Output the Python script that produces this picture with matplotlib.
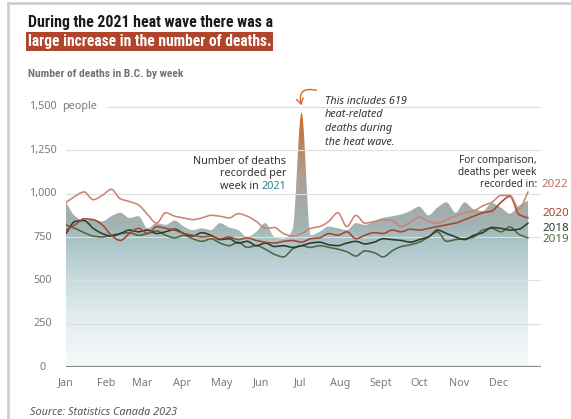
import numpy as np
import matplotlib
matplotlib.use("Agg")
import matplotlib.pyplot as plt
from matplotlib import font_manager
from matplotlib.colors import LinearSegmentedColormap
from matplotlib.lines import Line2D
from matplotlib.patches import FancyArrowPatch

# weekly deaths in B.C. (week 1 .. 52)
deaths_2021 = [950, 870, 845, 850, 840, 870, 890, 860, 870, 800, 830, 820, 845,
               810, 790, 800, 790, 830, 805, 790, 750, 780, 830, 750, 740, 790,
               1470, 760, 780, 810, 800, 790, 830, 820, 840, 860, 870, 880, 900,
               925, 875, 920, 950, 890, 950, 910, 900, 945, 920, 885, 930, 960]
deaths_2022 = [950, 985, 1010, 965, 990, 1025, 970, 955, 935, 880, 830, 890, 870,
               860, 850, 860, 875, 870, 860, 885, 870, 840, 800, 805, 770, 755,
               770, 800, 810, 840, 890, 810, 875, 830, 840, 850, 845, 810, 835,
               865, 840, 830, 850, 870, 890, 900, 930, 950, 990, 990, 910, 1010]
deaths_2020 = [790, 820, 855, 850, 820, 760, 730, 770, 800, 770, 810, 800, 790,
               770, 760, 750, 755, 740, 750, 735, 745, 730, 720, 715, 725, 730,
               720, 740, 745, 770, 760, 780, 740, 760, 775, 770, 790, 780, 795,
               790, 800, 810, 820, 830, 850, 870, 890, 900, 950, 985, 880, 860]
deaths_2018 = [770, 840, 845, 800, 770, 755, 770, 790, 780, 790, 770, 780, 795,
               770, 755, 775, 760, 735, 740, 715, 725, 700, 715, 695, 700, 690,
               700, 715, 720, 705, 700, 715, 725, 710, 720, 740, 735, 730, 720,
               735, 750, 790, 770, 750, 735, 760, 775, 805, 800, 790, 795, 830]
deaths_2019 = [820, 800, 775, 755, 750, 760, 770, 775, 760, 770, 785, 760, 745,
               760, 740, 725, 740, 715, 700, 720, 690, 700, 680, 650, 635, 680,
               700, 690, 700, 690, 680, 665, 640, 670, 660, 635, 670, 695, 705,
               720, 750, 780, 725, 735, 740, 750, 790, 800, 780, 808, 765, 745]

months = ["Jan", "Feb", "Mar", "Apr", "May", "Jun", "Jul", "Aug", "Sept", "Oct", "Nov", "Dec"]
month_start_day = [0, 31, 59, 90, 120, 151, 181, 212, 243, 273, 304, 334]
y_ticks = [0, 250, 500, 750, 1000, 1250, 1500]

W, H = 571, 419
TEAL = "#2f7f8c"
C2022, C2020, C2018, C2019 = "#cd8275", "#a8442e", "#2e3a2c", "#52663e"
GRAY = "#7a7a7a"


def pick_font(*names):
    have = {f.name for f in font_manager.fontManager.ttflist}
    for n in names:
        if n in have:
            return n
    return "DejaVu Sans"


HEAD = pick_font("Roboto Condensed", "Liberation Sans Narrow", "DejaVu Sans")
BODY = pick_font("Noto Sans", "Lato", "DejaVu Sans")


def pchip(y, n=12):
    """Monotone cubic through evenly spaced points, for smooth lines."""
    y = np.asarray(y, float)
    d = np.diff(y)
    m = np.zeros_like(y)
    for k in range(1, len(y) - 1):
        if d[k - 1] * d[k] > 0:
            m[k] = 2.0 / (1.0 / d[k - 1] + 1.0 / d[k])
    m[0], m[-1] = d[0], d[-1]
    xs, ys = [], []
    for k in range(len(y) - 1):
        t = np.linspace(0, 1, n, endpoint=False)
        h00 = 2 * t**3 - 3 * t**2 + 1
        h10 = t**3 - 2 * t**2 + t
        h01 = -2 * t**3 + 3 * t**2
        h11 = t**3 - t**2
        xs.append(k + t)
        ys.append(h00 * y[k] + h10 * m[k] + h01 * y[k + 1] + h11 * m[k + 1])
    xs.append([len(y) - 1])
    ys.append([y[-1]])
    return np.concatenate(xs), np.concatenate(ys)


def px(x, y):
    return x / W, 1 - y / H


fig = plt.figure(figsize=(W / 100, H / 100), dpi=100)
fig.patch.set_facecolor("white")
renderer = fig.canvas.get_renderer()

# axes placed so that 0 sits at y=367 px and 1,500 at y=107 px
ppu = 260 / 1500
ymax = 1600
xend = 475 / 9.06
ax = fig.add_axes([66 / W, (H - 367) / H, 475 / W, ymax * ppu / H])
ax.axis("off")

# 2021 area with a vertical colour gradient
xs, ys = pchip(deaths_2021)
poly = ax.fill_between(xs, 0, ys, facecolor="none", edgecolor="none")
stops = [(0, "#f6f9f9"), (300, "#e1ecee"), (550, "#c2d7da"), (720, "#aac4c8"),
         (820, "#a2b3b2"), (950, "#a5aaa7"), (1100, "#ad9f95"), (1470, "#d5661f"),
         (1600, "#d5661f")]
cmap = LinearSegmentedColormap.from_list("area", [(v / 1600, c) for v, c in stops])
grad = np.linspace(0, 1, 400).reshape(-1, 1)
im = ax.imshow(grad, extent=[0, 52, 0, 1600], origin="lower", aspect="auto",
               cmap=cmap, vmin=0, vmax=1, zorder=1)
im.set_clip_path(poly.get_paths()[0], transform=ax.transData)
ax.set_xlim(0, xend)
ax.set_ylim(0, ymax)

# gridlines and baseline
for v in y_ticks[1:]:
    x0 = (107 - 66) / 9.06 if v == 1500 else 0
    ax.add_line(Line2D([x0, xend], [v, v], color="#dcdfdf", lw=0.8, zorder=2))
ax.add_line(Line2D([0, xend], [0, 0], color="#8c8c8c", lw=1.6, zorder=5))

# comparison years
for data, col in [(deaths_2019, C2019), (deaths_2018, C2018),
                  (deaths_2020, C2020), (deaths_2022, C2022)]:
    lx, ly = pchip(data)
    ax.plot(lx, ly, color=col, lw=1.15, zorder=4, solid_capstyle="round")

# y labels
for v in y_ticks:
    fig.text(43 / W, 1 - (367 - v * ppu) / H, f"{v:,}", ha="center", va="center",
             fontsize=7.8, color=GRAY, family=BODY)
fig.text(*px(62, 107), "people", ha="left", va="center", fontsize=7.8,
         color=GRAY, family=BODY)

# month labels
for m, d in zip(months, month_start_day):
    fig.text(*px(66 + d / 7 * 9.06, 383), m, ha="center", va="center",
             fontsize=7.8, color=GRAY, family=BODY)


def fit(t, width):
    w = t.get_window_extent(renderer).width
    t.set_fontsize(t.get_fontsize() * width / w)
    return t


# headline
fit(fig.text(*px(28, 27), "During the 2021 heat wave there was a", ha="left",
             va="baseline", fontsize=13, weight="bold", color="#1a1a1a",
             family=HEAD, fontstretch="condensed"), 244)
fit(fig.text(*px(28, 46), "large increase in the number of deaths.", ha="left",
             va="baseline", fontsize=13, weight="bold", color="white",
             family=HEAD, fontstretch="condensed",
             bbox=dict(boxstyle="square,pad=0.12", fc="#b0452c", ec="none")), 243)
fit(fig.text(*px(28, 77), "Number of deaths in B.C. by week", ha="left",
             va="baseline", fontsize=9, weight="bold", color="#747474",
             family=HEAD, fontstretch="condensed"), 155)

# 2021 note
for i, s in enumerate(["Number of deaths", "recorded per"]):
    fig.text(*px(286, 161 + 12.5 * i), s, ha="right", va="center",
             fontsize=7.8, color="#333333", family=BODY)
t21 = fig.text(*px(286, 186), "2021", ha="right", va="center", fontsize=7.8,
               color=TEAL, family=BODY)
w21 = t21.get_window_extent(renderer).width
fig.text(*px(286 - w21, 186), "week in ", ha="right", va="center",
         fontsize=7.8, color="#333333", family=BODY)

# heat wave note
for i, s in enumerate(["This includes 619", "heat-related", "deaths during",
                       "the heat wave."]):
    fig.text(*px(325, 101 + 13.7 * i), s, ha="left", va="center", fontsize=7.8,
             style="italic", color="#333333", family=BODY)
fig.add_artist(FancyArrowPatch(
    px(319, 91), px(302, 108), transform=fig.transFigure,
    connectionstyle="arc3,rad=0.9", arrowstyle="->,head_length=4,head_width=2.5",
    color="#d0692b", lw=1.0))

# comparison legend
for i, s in enumerate(["For comparison,", "deaths per week", "recorded in:"]):
    fig.text(*px(537, 160 + 12 * i), s, ha="right", va="center", fontsize=7.3,
             color="#333333", family=BODY)
fig.text(*px(541, 184), "2022", ha="left", va="center", fontsize=8.3,
         weight="bold", color="#c8695c", family=BODY)
for s, y, c in [("2020", 213, C2020), ("2018", 228, C2018), ("2019", 239, C2019)]:
    fig.text(*px(542, y), s, ha="left", va="center", fontsize=8.3,
             weight="bold", color=c, family=BODY)

fig.text(*px(30, 412), "Source: Statistics Canada 2023", ha="left",
         va="center", fontsize=7.8, style="italic", color="#555555", family=BODY)

# card border on top and left
fig.add_artist(Line2D([8 / W, 1], [1 - 3 / H, 1 - 3 / H], color="#cfcfcf", lw=2))
fig.add_artist(Line2D([8 / W, 8 / W], [0, 1 - 3 / H], color="#cfcfcf", lw=2))

fig.savefig("out.png", dpi=100, facecolor="white")
